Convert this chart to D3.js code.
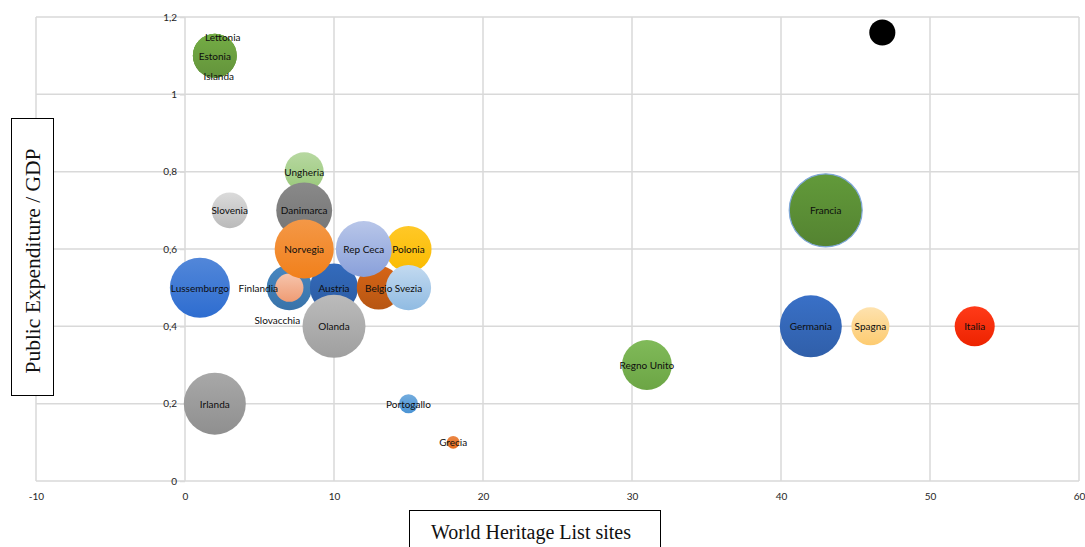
<!DOCTYPE html>
<html>
<head>
<meta charset="utf-8">
<script src="https://cdn.jsdelivr.net/npm/d3@7"></script>
<style>
  html, body { margin: 0; padding: 0; background: #fff; }
  svg { display: block; }
  .lbl { font-family: Lato, "Open Sans", sans-serif; font-size: 10px; fill: #0d0d0d; }
  .tick-lbl { font-family: Lato, "Open Sans", sans-serif; font-size: 10px; fill: #262626; }
  .title { font-family: "Liberation Serif", "DejaVu Serif", serif; fill: #111; }
</style>
</head>
<body>
<svg id="chart" width="1085" height="547"></svg>
<script>
// Countries, in drawing order (later bubbles sit on top)
const countries = ["Lussemburgo","Irlanda","Slovenia","Lettonia","Islanda","Estonia","Ungheria","Danimarca",
  "Finlandia","Slovacchia","Austria","Norvegia","Polonia","Belgio","Rep Ceca","Svezia","Olanda",
  "Portogallo","Grecia","Regno Unito","Francia","Germania","Spagna","Italia",""];
// World Heritage List sites
const sites = [1, 2, 3, 2, 2, 2, 8, 8, 7, 7, 10, 8, 15, 13, 12, 15, 10, 15, 18, 31, 43, 42, 46, 53, 46.8];
// Public expenditure on culture / GDP
const expenditure = [0.5, 0.2, 0.7, 1.1, 1.1, 1.1, 0.8, 0.7, 0.5, 0.5, 0.5, 0.6, 0.6, 0.5, 0.6, 0.5, 0.4,
  0.2, 0.1, 0.3, 0.7, 0.4, 0.4, 0.4, 1.16];
// Bubble size values
const bubbleSize = [90, 96, 32, 48, 48, 48, 38, 78, 51, 20, 58, 87, 53, 48, 78, 51, 99, 9, 4, 62, 133, 96, 36, 40, 17];
const colors = ["#3d78d4","#9a9a9a","#c8c8c8","#6a9e3f","#6a9e3f","#6a9e3f","#a6cf8a","#7d7d7d",
  "#3d7cb5","#f2ad8c","#2f62ad","#f28a2e","#ffc20e","#c45c14","#9db0e0","#a6c8e8","#ababab",
  "#5c9ed8","#e8782e","#74b14a","#5a8d35","#3466b6","#fdd58a","#ff2600","#000000"];

const xTicks = [-10, 0, 10, 20, 30, 40, 50, 60];
const xTickLabels = ["-10", "0", "10", "20", "30", "40", "50", "60"];
const yTicks = [0, 0.2, 0.4, 0.6, 0.8, 1, 1.2];
const yTickLabels = ["0", "0,2", "0,4", "0,6", "0,8", "1", "1,2"];

// Label placement for labels that do not sit at the bubble centre
const labelShift = {
  "Lettonia": [8, -19],
  "Islanda": [4, 20],
  "Finlandia": [-31, 0],
  "Slovacchia": [-12, 32]
};

const svg = d3.select("#chart");
const x = d3.scaleLinear().domain([-10, 60]).range([36, 1079]);
const y = d3.scaleLinear().domain([0, 1.2]).range([481, 17]);
const r = d3.scaleSqrt().domain([0, 133]).range([0, 36.5]);

const data = countries.map((c, i) => ({
  name: c, x: sites[i], y: expenditure[i], s: bubbleSize[i], color: colors[i], i
}));

// gradients: lighter at top, deeper at bottom
const defs = svg.append("defs");
data.forEach(d => {
  const g = defs.append("linearGradient").attr("id", "g" + d.i)
    .attr("x1", 0).attr("y1", 0).attr("x2", 0).attr("y2", 1);
  const base = d3.color(d.color);
  const isBlack = d.name === "";
  g.append("stop").attr("offset", "0%").attr("stop-color", isBlack ? "#000" : d3.hsl(base).brighter(0.25).formatHex());
  g.append("stop").attr("offset", "100%").attr("stop-color", isBlack ? "#000" : d3.hsl(base).darker(0.2).formatHex());
});

// grid
const grid = svg.append("g");
grid.selectAll("line.v").data(xTicks).join("line")
  .attr("x1", d => x(d)).attr("x2", d => x(d)).attr("y1", y(1.2)).attr("y2", y(0))
  .attr("stroke", "#d9d9d9").attr("stroke-width", 1.5);
grid.selectAll("line.h").data(yTicks).join("line")
  .attr("x1", x(-10)).attr("x2", x(60)).attr("y1", d => y(d)).attr("y2", d => y(d))
  .attr("stroke", "#d9d9d9").attr("stroke-width", 1.5);

// y axis sits on x = 0
const yAxis = d3.axisLeft(y).tickValues(yTicks).tickSize(5).tickPadding(3)
  .tickFormat((d, i) => yTickLabels[i]);
const ya = svg.append("g").attr("transform", `translate(${x(0)},0)`).call(yAxis);
ya.select(".domain").remove();
ya.selectAll(".tick line").attr("stroke", "#d9d9d9").attr("stroke-width", 1.5);
ya.selectAll(".tick text").attr("class", "tick-lbl").attr("font-family", null).attr("font-size", null).attr("fill", null);

const xAxis = d3.axisBottom(x).tickValues(xTicks).tickSize(0).tickPadding(12)
  .tickFormat((d, i) => xTickLabels[i]);
const xa = svg.append("g").attr("transform", `translate(0,${y(0)})`).call(xAxis);
xa.select(".domain").remove();
xa.selectAll(".tick text").attr("class", "tick-lbl").attr("font-family", null).attr("font-size", null).attr("fill", null);

// bubbles
svg.append("g").selectAll("circle").data(data).join("circle")
  .attr("cx", d => x(d.x)).attr("cy", d => y(d.y)).attr("r", d => r(d.s))
  .attr("fill", d => `url(#g${d.i})`)
  .attr("stroke", d => d.name === "Francia" ? "#7fa7d8" : "none")
  .attr("stroke-width", 1.2);

// labels
svg.append("g").selectAll("text").data(data.filter(d => d.name)).join("text")
  .attr("class", "lbl")
  .attr("x", d => x(d.x) + (labelShift[d.name] ? labelShift[d.name][0] : 0))
  .attr("y", d => y(d.y) + (labelShift[d.name] ? labelShift[d.name][1] : 0))
  .attr("text-anchor", "middle").attr("dominant-baseline", "central")
  .text(d => d.name);

// axis titles in framed boxes
svg.append("rect").attr("x", 11.5).attr("y", 118.5).attr("width", 42).attr("height", 277)
  .attr("fill", "#fff").attr("stroke", "#000").attr("stroke-width", 1);
svg.append("text").attr("class", "title").attr("font-size", 21.5)
  .attr("transform", `translate(40,261) rotate(-90)`)
  .attr("text-anchor", "middle").text("Public Expenditure / GDP");

svg.append("rect").attr("x", 409.5).attr("y", 510.5).attr("width", 251).attr("height", 45)
  .attr("fill", "#fff").attr("stroke", "#000").attr("stroke-width", 1);
svg.append("text").attr("class", "title").attr("font-size", 20)
  .attr("x", 531).attr("y", 539).attr("text-anchor", "middle").text("World Heritage List sites");
</script>
</body>
</html>
